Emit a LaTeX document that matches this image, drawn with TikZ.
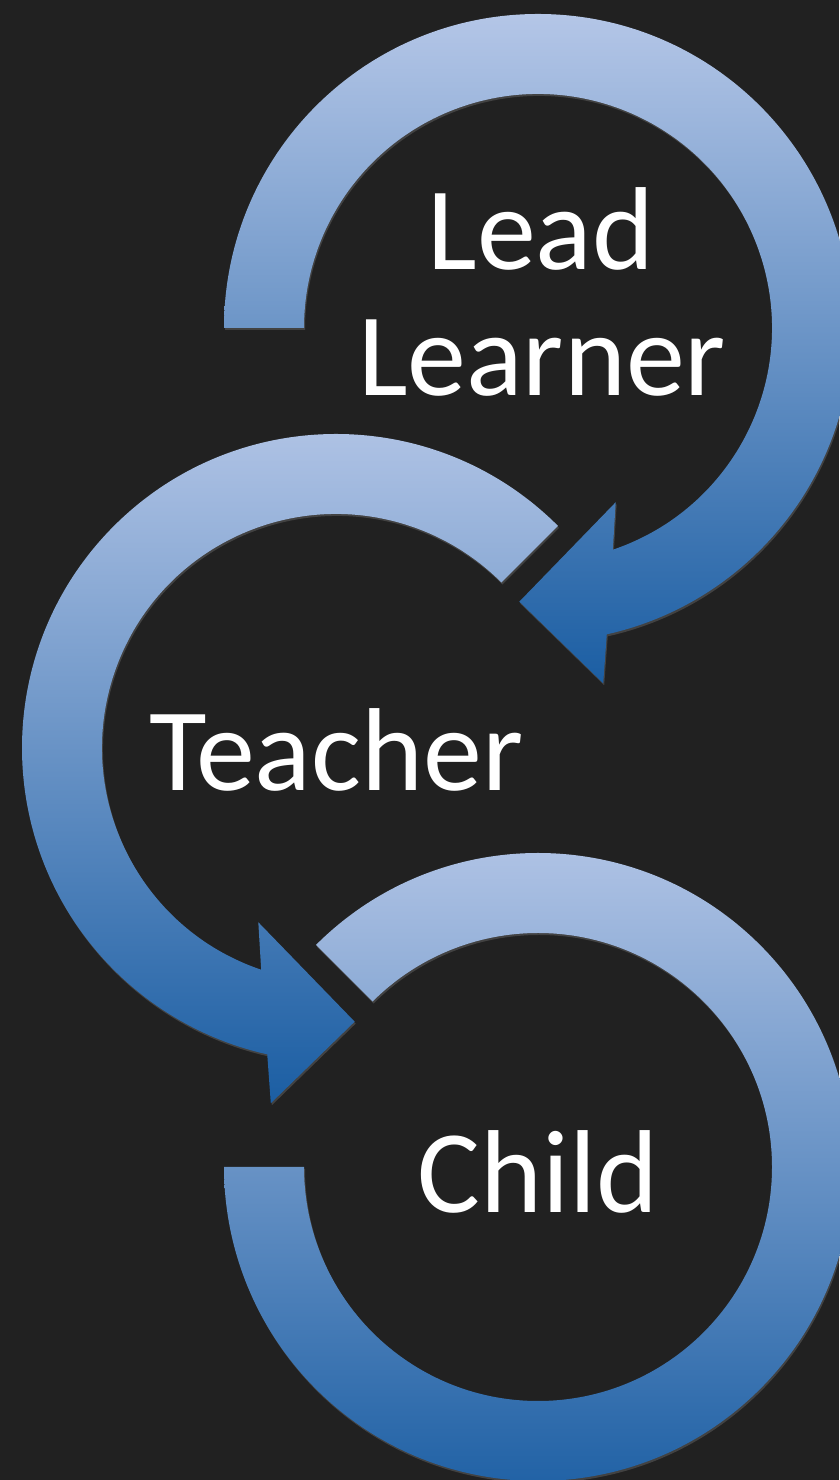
\documentclass[tikz,border=0pt]{standalone}
\usepackage{fontspec}
\setmainfont{Carlito}
\usetikzlibrary{shadows}
\definecolor{bg}{HTML}{212121}
\definecolor{gtop}{HTML}{B4C6E7}
\definecolor{gbot}{HTML}{1B5EA3}
\tikzset{
  ring/.style={top color=gtop, bottom color=gbot, draw=none,
    drop shadow={opacity=0.35, shadow xshift=1pt, shadow yshift=-2pt}},
  ringtext/.style={text=white, inner sep=0pt, anchor=base,
    font=\fontsize{118}{126}\selectfont}
}
\begin{document}
\begin{tikzpicture}[x=1pt,y=1pt]
\fill[bg] (0,0) rectangle (839,1480);
\useasboundingbox (0,0) rectangle (839,1480);
\coordinate (c1) at (538,1152);
\coordinate (c2) at (336,732);
\coordinate (c3) at (538,313);
% bottom ring (no head)
\path[ring] ([shift={(135:314)}]c3) arc[start angle=135, end angle=-180, radius=314]
  -- ([shift={(180:234)}]c3) arc[start angle=-180, end angle=135, radius=234] -- cycle;
% middle ring, head at bottom pointing right
\path[ring] ([shift={(45:314)}]c2) arc[start angle=45, end angle=257.35, radius=314]
  -- ([shift={(259.6:361.2)}]c2) -- ([shift={(273.9:274.3)}]c2)
  -- ([shift={(245.97:190.8)}]c2) -- ([shift={(251.35:234)}]c2)
  arc[start angle=251.35, end angle=45, radius=234] -- cycle;
% top ring, head at bottom pointing left
\path[ring] ([shift={(180:314)}]c1) arc[start angle=-180, end angle=-437.35, radius=314]
  -- ([shift={(-79.6:361.2)}]c1) -- ([shift={(-93.9:274.3)}]c1)
  -- ([shift={(-65.97:190.8)}]c1) -- ([shift={(-71.35:234)}]c1)
  arc[start angle=-431.35, end angle=-180, radius=234] -- cycle;
% texts
\node[ringtext] (lead) at (541,1210) {Lead};
\node[ringtext] (learner) at (542,1084) {Learner};
\node[ringtext] (teacher) at (336,689.3) {Teacher};
\node[ringtext] (child) at (538,267.3) {Child};
\end{tikzpicture}
\end{document}
